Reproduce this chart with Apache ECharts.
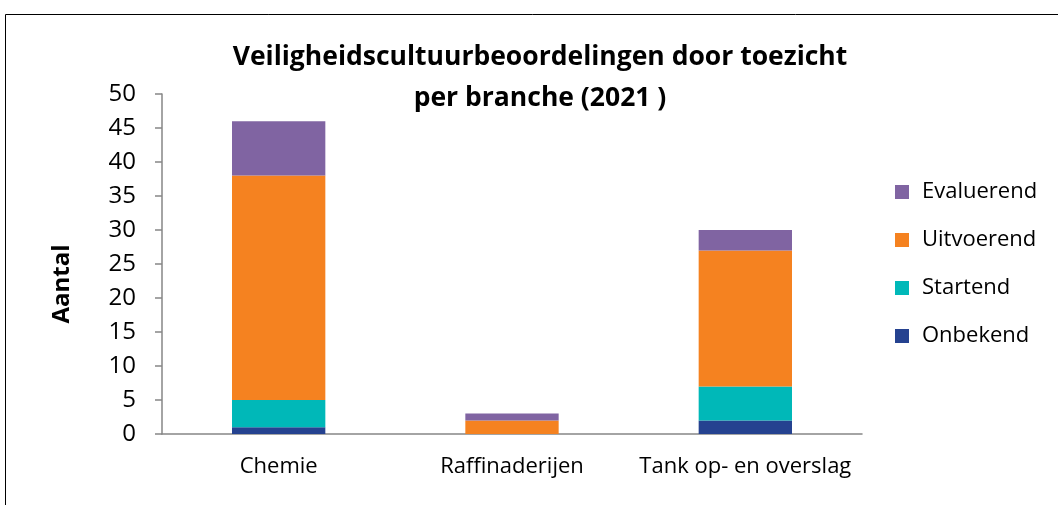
<!DOCTYPE html>
<html>
<head>
<meta charset="utf-8">
<script src="https://cdn.jsdelivr.net/npm/echarts@6/dist/echarts.min.js"></script>
<style>
  html, body { margin: 0; padding: 0; background: #fff; }
  #chart { width: 1058px; height: 505px; }
</style>
</head>
<body>
<div id="chart"></div>
<script>
// branches and counts per phase
const categories = ['Chemie', 'Raffinaderijen', 'Tank op- en overslag']
const onbekend = [1, 0, 2]
const startend = [4, 0, 5]
const uitvoerend = [33, 2, 20]
const evaluerend = [8, 1, 3]
const legendOrder = ['Evaluerend', 'Uitvoerend', 'Startend', 'Onbekend']

const font = '"Open Sans", Lato, sans-serif'
const axisGray = '#868686'

const chart = echarts.init(document.getElementById('chart'))

function bar(name, data, color) {
  return {
    name: name,
    type: 'bar',
    stack: 'total',
    barWidth: '40%',
    data: data,
    itemStyle: { color: color }
  }
}

chart.setOption({
  animation: false,
  textStyle: { fontFamily: font },
  graphic: [
    {
      type: 'rect',
      shape: { x: 5.5, y: 14.5, width: 1100, height: 600 },
      style: { fill: 'none', stroke: '#000', lineWidth: 1 }
    },
    {
      // y axis title
      type: 'text',
      x: 62,
      y: 284,
      rotation: Math.PI / 2,
      style: {
        text: 'Aantal',
        fontSize: 24,
        fontWeight: 'bold',
        fontFamily: font,
        fill: '#000',
        align: 'center',
        verticalAlign: 'middle'
      }
    }
  ],
  title: {
    text: 'Veiligheidscultuurbeoordelingen door toezicht\nper branche (2021 )',
    left: 535,
    textAlign: 'center',
    top: 32,
    textStyle: { fontSize: 26.5, fontWeight: 'bold', color: '#000', lineHeight: 41, fontFamily: font }
  },
  legend: {
    orient: 'vertical',
    left: 890,
    top: 176,
    data: legendOrder,
    itemWidth: 14,
    itemHeight: 14,
    itemGap: 26,
    icon: 'rect',
    textStyle: { fontSize: 22, color: '#000', fontFamily: font, padding: [0, 0, 0, 8] }
  },
  grid: { left: 162, right: 196, top: 94, bottom: 71 },
  xAxis: {
    type: 'category',
    data: categories,
    axisLine: { lineStyle: { color: axisGray, width: 1.5 } },
    axisTick: { length: 7, lineStyle: { color: axisGray, width: 1.5 } },
    axisLabel: { fontSize: 22, color: '#000', margin: 22, interval: 0 }
  },
  yAxis: {
    type: 'value',
    min: 0,
    max: 50,
    interval: 5,
    axisLine: { show: true, lineStyle: { color: axisGray, width: 1.5 } },
    axisTick: { show: true, length: 7, lineStyle: { color: axisGray, width: 1.5 } },
    axisLabel: { fontSize: 24, color: '#000', margin: 26 },
    splitLine: { show: false }
  },
  series: [
    bar('Onbekend', onbekend, '#254290'),
    bar('Startend', startend, '#00B8B8'),
    bar('Uitvoerend', uitvoerend, '#F58220'),
    bar('Evaluerend', evaluerend, '#8064A2')
  ]
})
</script>
</body>
</html>
